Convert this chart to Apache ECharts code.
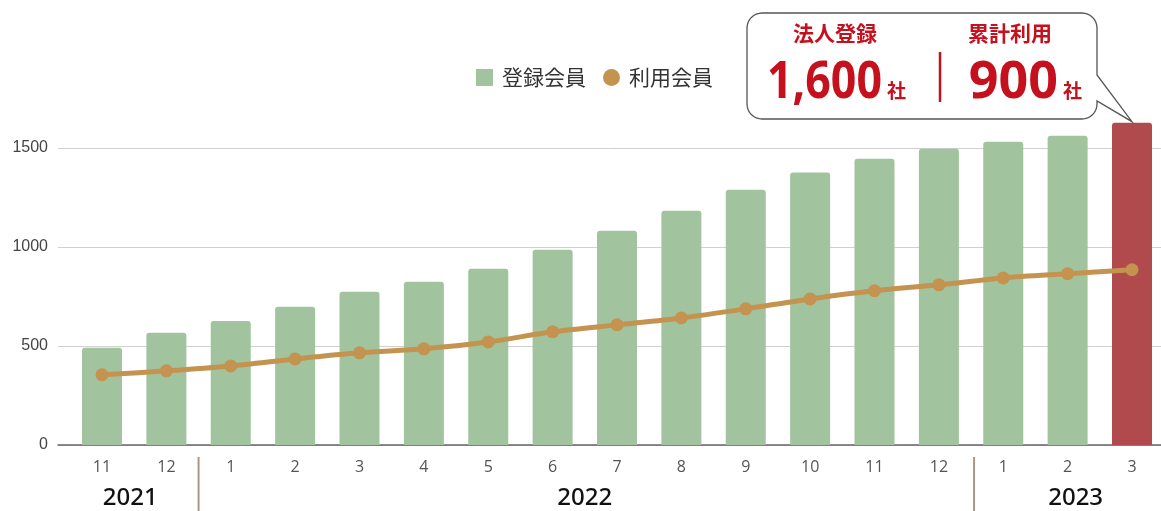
<!DOCTYPE html>
<html>
<head>
<meta charset="utf-8">
<script src="https://cdn.jsdelivr.net/npm/echarts@6/dist/echarts.min.js"></script>
<style>
html,body{margin:0;padding:0;background:#fff;}
#c{width:1161px;height:511px;}
</style>
</head>
<body>
<div id="c"></div>
<script>
const months = ['11','12','1','2','3','4','5','6','7','8','9','10','11','12','1','2','3'];
const registered = [490,566,626,697,773,823,889,985,1081,1182,1288,1374,1444,1495,1530,1560,1626];
const active = [354,374,399,434,465,485,520,571,606,641,687,737,778,808,843,864,884];
const yearLabels = ['2021','2022','2023'];
const yearStart = [0,2,14];
const yearEnd = [1,13,16];
const yTicks = [0,500,1000,1500];
const calloutTitles = ['法人登録','累計利用'];
const calloutValues = ['1,600','900'];
const calloutUnit = '社';

const GREEN = '#a1c49e', RED = '#b04a4d', GOLD = '#c49350', TXTRED = '#c4111d';
const chart = echarts.init(document.getElementById('c'), null, {renderer:'canvas'});

const barData = registered.map((v,i)=> i === registered.length-1
  ? {value:v, itemStyle:{color:RED}} : v);

chart.setOption({
  animation:false,
  legend:{
    left:471, top:62, itemWidth:17, itemHeight:17, itemGap:17,
    textStyle:{fontSize:21, color:'#333', fontFamily:'"Noto Sans CJK JP"', padding:[0,0,0,4]},
    data:[{name:'登録会員', icon:'rect'},{name:'利用会員', icon:'circle'}]
  },
  grid:[
    {left:102, right:29, top:108, height:337},
    {left:58, right:0, top:148, height:297}
  ],
  xAxis:[
    {gridIndex:0, type:'category', data:months, boundaryGap:false,
     axisLine:{show:false}, axisTick:{show:false}, splitLine:{show:false},
     axisLabel:{fontSize:16, color:'#555', margin:14, fontFamily:'"Open Sans"'}},
    {gridIndex:1, type:'value', min:0, max:1, show:true,
     axisLine:{show:true, lineStyle:{color:'#666', width:1.5}},
     axisTick:{show:false}, axisLabel:{show:false}, splitLine:{show:false}}
  ],
  yAxis:[
    {gridIndex:0, type:'value', min:0, max:1700, show:false, splitLine:{show:false}},
    {gridIndex:1, type:'value', min:yTicks[0], max:yTicks[yTicks.length-1], interval:500,
     axisLine:{show:false}, axisTick:{show:false},
     axisLabel:{fontSize:16, color:'#444', margin:10, fontFamily:'"Liberation Sans"',
       formatter: v => String(v)},
     splitLine:{show:true, lineStyle:{color:'#d0d0d0', width:1}}}
  ],
  series:[
    {name:'登録会員', type:'bar', xAxisIndex:0, yAxisIndex:0, data:barData, clip:false,
     barWidth:40, itemStyle:{color:GREEN, borderRadius:[3,3,0,0]}},
    {name:'利用会員', type:'line', xAxisIndex:0, yAxisIndex:0, data:active, clip:false,
     smooth:0.3, symbol:'circle', symbolSize:13, z:5,
     lineStyle:{color:GOLD, width:5}, itemStyle:{color:GOLD}}
  ]
});

// Year labels and separators placed from axis positions
const yearOffset = [-4, 0, 8];
const g = [];
const px = i => chart.convertToPixel({xAxisIndex:0}, i);
const step = px(1) - px(0);
for (let k=0;k<yearLabels.length;k++){
  const cx = (px(yearStart[k]) + px(yearEnd[k]))/2 + yearOffset[k];
  g.push({type:'text', style:{text:yearLabels[k], x:cx, y:498, align:'center', verticalAlign:'middle',
    font:'500 24px "Noto Sans"', fill:'#111'}});
  if (k>0){
    const sx = px(yearStart[k]) - step/2 + (k===2?3:0);
    g.push({type:'line', shape:{x1:sx,y1:457,x2:sx,y2:511}, style:{stroke:'#a89a82', lineWidth:2}});
  }
}
// Callout bubble pointing at the last bar
const lastX = px(registered.length-1);
const tipY = chart.convertToPixel({yAxisIndex:0}, registered[registered.length-1]);
const pts = [];
function arc(cx, cy, r, a0, a1){
  for (let s=0;s<=8;s++){
    const a = (a0 + (a1-a0)*s/8) * Math.PI/180;
    pts.push([cx + r*Math.cos(a), cy + r*Math.sin(a)]);
  }
}
const BL=747, BT=13, BR=1097, BB=119, RR=15;
arc(BL+RR, BT+RR, RR, 180, 270);
arc(BR-RR, BT+RR, RR, 270, 360);
pts.push([BR, 75]); pts.push([lastX, tipY-1]); pts.push([BR, 101]);
arc(BR-RR, BB-RR, RR, 0, 90);
arc(BL+RR, BB-RR, RR, 90, 180);
g.push({type:'polygon', z:10, shape:{points:pts}, style:{fill:'#fff', stroke:'#555', lineWidth:1.3}});
const cols = [835, 1010];
const valRight = [882, 1058];
const valScale = [0.86, 1];
for (let k=0;k<2;k++){
  g.push({type:'text', z:11, style:{text:calloutTitles[k], x:cols[k], y:33, align:'center', verticalAlign:'middle',
    font:'bold 21px "Noto Sans CJK JP"', fill:TXTRED}});
  g.push({type:'text', z:11, x:valRight[k], y:83, scaleX:valScale[k], originX:0, originY:0,
    style:{text:calloutValues[k], x:0, y:0, align:'right', verticalAlign:'middle',
    font:'bold 52px "Noto Sans"', fill:TXTRED}});
  g.push({type:'text', z:11, style:{text:calloutUnit, x:valRight[k]+5, y:91, align:'left', verticalAlign:'middle',
    font:'bold 19px "Noto Sans CJK JP"', fill:TXTRED}});
}
g.push({type:'line', z:11, shape:{x1:940,y1:52,x2:940,y2:102}, style:{stroke:TXTRED, lineWidth:2.5}});
chart.setOption({graphic:g});
</script>
</body>
</html>
